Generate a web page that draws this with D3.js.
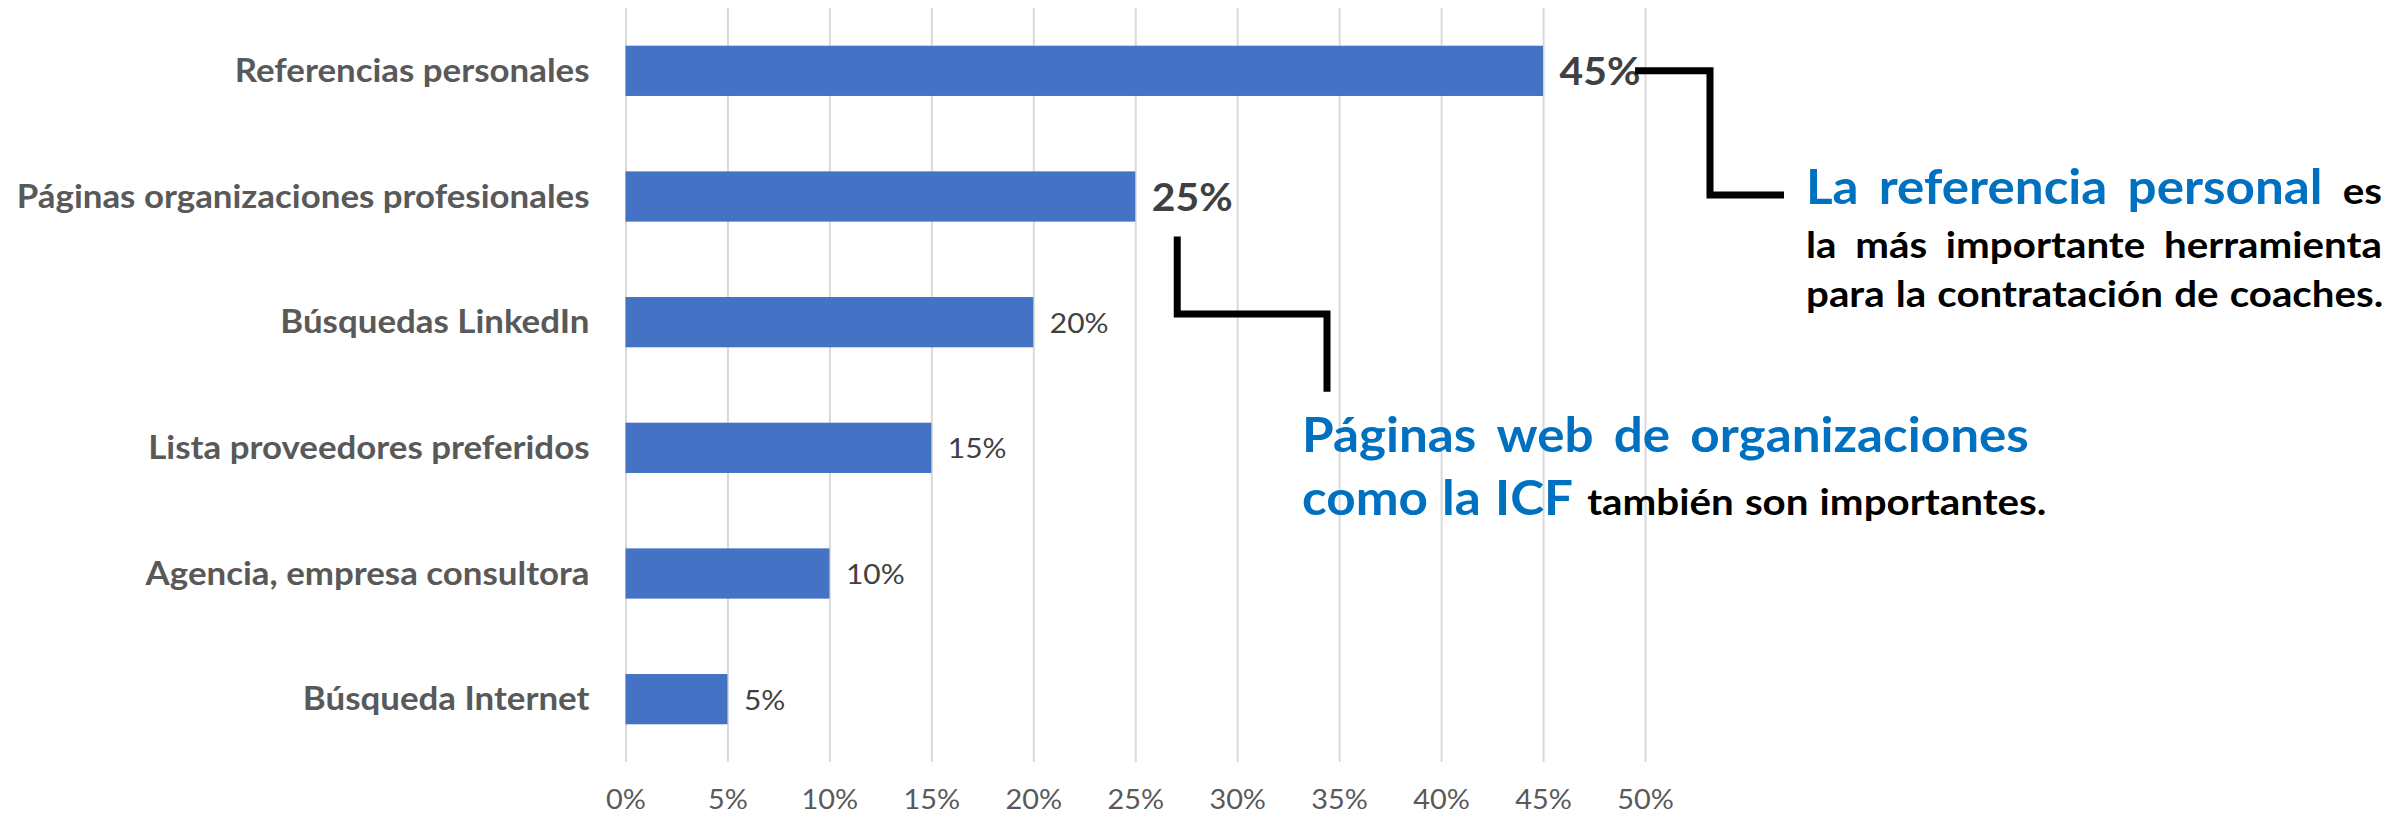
<!DOCTYPE html>
<html>
<head>
<meta charset="utf-8">
<script src="https://cdn.jsdelivr.net/npm/d3@7"></script>
<style>
  body { margin: 0; background: #fff; }
  svg { display: block; }
  text { font-family: Lato, "Open Sans", sans-serif; }
</style>
</head>
<body>
<svg id="chart"></svg>
<script>
// chart data
const categories = [
  "Referencias personales",
  "Páginas organizaciones profesionales",
  "Búsquedas LinkedIn",
  "Lista proveedores preferidos",
  "Agencia, empresa consultora",
  "Búsqueda Internet"
];
const values = [45, 25, 20, 15, 10, 5];
const emphasised = [true, true, false, false, false, false];
const tickValues = [0, 5, 10, 15, 20, 25, 30, 35, 40, 45, 50];

// annotation text, word by word: [word, style]
const noteOneLines = [
  [["La", "blue"], ["referencia", "blue"], ["personal", "blue"], ["es", "black"]],
  [["la", "black"], ["más", "black"], ["importante", "black"], ["herramienta", "black"]],
  [["para", "black"], ["la", "black"], ["contratación", "black"], ["de", "black"], ["coaches.", "black"]]
];
const noteTwoLines = [
  [["Páginas", "blue"], ["web", "blue"], ["de", "blue"], ["organizaciones", "blue"]],
  [["como", "blue"], ["la", "blue"], ["ICF", "blue"], ["también", "black"], ["son", "black"], ["importantes.", "black"]]
];

const width = 2404, height = 815;
const plot = {left: 625.5, right: 1645, top: 8, bottom: 762};

const svg = d3.select("#chart")
  .attr("width", width)
  .attr("height", height);

const x = d3.scaleLinear()
  .domain([0, 50])
  .range([plot.left, plot.right]);

const y = d3.scaleBand()
  .domain(categories)
  .range([plot.top, plot.bottom])
  .paddingInner(0.6)
  .paddingOuter(0.3);

// horizontal squeeze so Lato matches the narrow Calibri look
const probe = svg.append("text")
  .attr("font-size", 32).attr("font-weight", 700)
  .text(categories[0]);
const k = 355 / probe.node().getComputedTextLength();
probe.remove();

// gridlines + tick labels
const xAxis = d3.axisBottom(x)
  .tickValues(tickValues)
  .tickFormat(d => d + "%")
  .tickSize(-(plot.bottom - plot.top));

const axisG = svg.append("g")
  .attr("transform", `translate(0,${plot.bottom})`)
  .call(xAxis);
axisG.select(".domain").remove();
axisG.selectAll(".tick line")
  .attr("stroke", "#D9D9D9")
  .attr("stroke-width", 2);
axisG.selectAll(".tick text")
  .attr("y", 0).attr("dy", 0)
  .attr("transform", `translate(0,46.5) scale(${k},1)`)
  .attr("font-size", 26.5)
  .attr("font-family", "Lato, sans-serif")
  .attr("fill", "#595959");

// bars
svg.append("g")
  .selectAll("rect")
  .data(values)
  .join("rect")
  .attr("x", x(0))
  .attr("y", (d, i) => y(categories[i]))
  .attr("width", d => x(d) - x(0))
  .attr("height", y.bandwidth())
  .attr("fill", "#4472C4");

// category labels
svg.append("g")
  .selectAll("text")
  .data(categories)
  .join("text")
  .attr("transform", d => `translate(${plot.left - 36},${y(d) + y.bandwidth() / 2 + 11}) scale(${k},1)`)
  .attr("text-anchor", "end")
  .attr("font-size", 32)
  .attr("font-weight", 700)
  .attr("fill", "#595959")
  .text(d => d);

// value labels
svg.append("g")
  .selectAll("text")
  .data(values)
  .join("text")
  .attr("transform", (d, i) => {
    const yc = y(categories[i]) + y.bandwidth() / 2;
    const dy = emphasised[i] ? 14.5 : 10.5;
    return `translate(${x(d) + 16.5},${yc + dy}) scale(${k},1)`;
  })
  .attr("font-size", (d, i) => emphasised[i] ? 37.5 : 27.5)
  .attr("font-weight", (d, i) => emphasised[i] ? 700 : 400)
  .attr("fill", "#404040")
  .text(d => d + "%");

// connector lines
const yc0 = y(categories[0]) + y.bandwidth() / 2;
const yc1 = y(categories[1]) + y.bandwidth() / 2;
const connectors = [
  [[x(values[0]) + 92, yc0], [1710, yc0], [1710, 195], [1784, 195]],
  [[x(values[1]) + 42, yc1 + 40], [1177.7, 314], [1327, 314], [1327, 391.7]]
];
connectors.forEach(pts => {
  const p = d3.path();
  p.moveTo(pts[0][0], pts[0][1]);
  // first segment may need to stay vertical/horizontal
  if (pts[0][1] === pts[1][1]) p.lineTo(pts[1][0], pts[0][1]);
  else p.lineTo(pts[0][0], pts[1][1]);
  for (let i = 2; i < pts.length; i++) p.lineTo(pts[i][0], pts[i][1]);
  svg.append("path")
    .attr("d", p.toString())
    .attr("fill", "none")
    .attr("stroke", "#000")
    .attr("stroke-width", 7)
    .attr("stroke-linejoin", "miter");
});

// annotation text
const styles = {
  blue: {size: 47, fill: "#0070C0"},
  black: {size: 37, fill: "#000000"}
};

function drawLine(words, left, right, baseline, justify) {
  const g = svg.append("g");
  const nodes = words.map(([w, s]) => g.append("text")
    .attr("font-size", styles[s].size)
    .attr("font-weight", 700)
    .attr("fill", styles[s].fill)
    .text(w));
  const widths = nodes.map(n => n.node().getComputedTextLength() * k);
  const gap = justify ? (right - left - d3.sum(widths)) / (words.length - 1) : 0;
  let cx = left;
  nodes.forEach((n, i) => {
    n.attr("transform", `translate(${cx},${baseline}) scale(${k},1)`);
    cx += widths[i] + (justify ? gap : styles[words[i][1]].size * 0.3);
  });
}

const noteOneBase = [204, 258, 307];
noteOneLines.forEach((line, i) => drawLine(line, 1806, 2382, noteOneBase[i], i < 2));

const noteTwoBase = [452, 515];
noteTwoLines.forEach((line, i) => drawLine(line, 1302, 2029, noteTwoBase[i], i < 1));
</script>
</body>
</html>
